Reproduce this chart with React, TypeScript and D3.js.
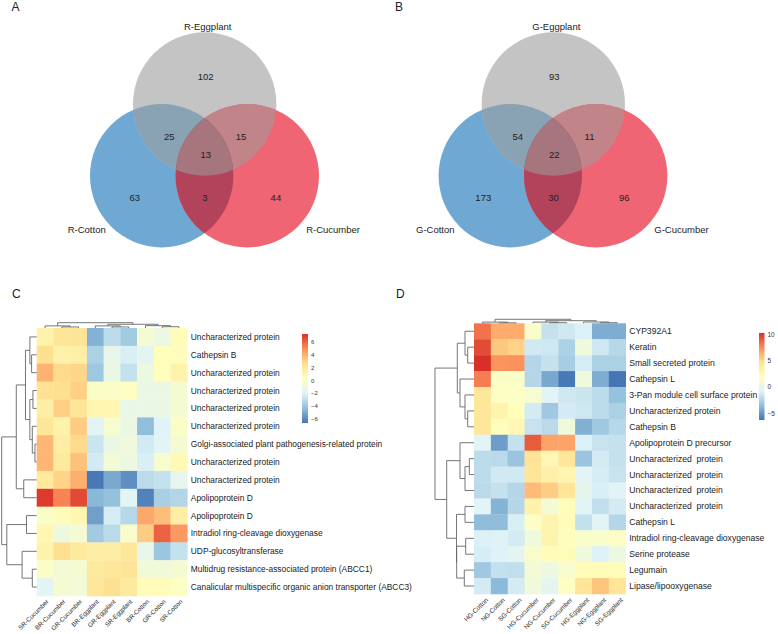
import React from 'react';
import * as d3 from 'd3';

const FONT = "'Liberation Sans', Arial, Helvetica, sans-serif";

// ---------------- Venn data ----------------
// order: cotton-only, eggplant-only, cucumber-only, cotton∩eggplant, eggplant∩cucumber, cotton∩cucumber, all three
const vennALabels = ['R-Cotton', 'R-Eggplant', 'R-Cucumber'];
const vennACounts = [63, 102, 44, 25, 15, 3, 13];
const vennBLabels = ['G-Cotton', 'G-Eggplant', 'G-Cucumber'];
const vennBCounts = [173, 93, 96, 54, 11, 30, 22];

// ---------------- Heatmap C ----------------
const heatCCols = ['SR-Cucumber', 'BR-Cucumber', 'GR-Cucumber', 'BR-Eggplant', 'GR-Eggplant', 'SR-Eggplant', 'BR-Cotton', 'GR-Cotton', 'SR-Cotton'];
const heatCRows = [
  'Uncharacterized protein',
  'Cathepsin B',
  'Uncharacterized protein',
  'Uncharacterized protein',
  'Uncharacterized protein',
  'Uncharacterized protein',
  'Golgi-associated plant pathogenesis-related protein',
  'Uncharacterized protein',
  'Uncharacterized protein',
  'Apolipoprotein D',
  'Apolipoprotein D',
  'Intradiol ring-cleavage dioxygenase',
  'UDP-glucosyltransferase',
  'Multidrug resistance-associated protein (ABCC1)',
  'Canalicular multispecific organic anion transporter (ABCC3)',
];
const heatCValues = [
  [1.3, 2.2, 2.3, -4.7, -3.0, -3.8, -0.4, -1.1, 0.6],
  [2.6, 1.4, 1.5, -3.5, -1.4, -2.2, -1.7, 0.4, 0.5],
  [3.9, 2.8, 2.9, -3.9, -1.2, -2.8, -1.0, 0.4, 1.3],
  [2.5, 2.6, 3.1, 0.0, 0.0, 0.2, -1.2, -1.2, -0.4],
  [1.6, 3.1, 2.2, 1.0, 1.0, -1.3, -1.2, -1.2, -0.4],
  [2.2, 1.3, 3.2, -1.8, -0.3, -1.2, -4.3, -2.0, 0.0],
  [3.8, 1.7, 2.8, -2.6, -1.2, -0.8, -2.4, -1.8, -0.5],
  [3.8, 2.0, 3.5, -2.4, -0.6, -1.0, -2.2, -0.3, 0.8],
  [2.0, 3.0, 4.0, -6.5, -5.0, -5.8, -3.0, -2.8, -1.5],
  [7.0, 5.2, 6.6, -4.5, -4.2, -1.8, -6.2, -3.6, -3.3],
  [0.0, 0.6, 1.0, -5.3, -2.3, -3.2, 4.2, 3.6, 1.6],
  [1.0, -1.0, -0.5, -3.8, -3.1, -0.2, 3.2, 6.0, 4.6],
  [1.3, 2.6, 1.9, 1.6, 1.6, 2.1, -1.4, -4.0, -2.8],
  [0.0, -0.6, -0.4, 1.9, 2.1, 2.3, -0.7, -0.7, -0.4],
  [-1.8, -0.4, -0.6, 2.1, 2.6, 1.9, 0.6, 0.6, 0.2],
];
const heatCRange = [-6.6, 7.25];
const heatCTicks = [-6, -4, -2, 0, 2, 4, 6];
// dendrograms: leaf = index, node = [height, left, right]
const heatCRowTree: any = [34.3,
  [20, [11, [6.7, 0, [5, 1, 2]], [6.7, [3.7, 3, 4], [4.3, 5, [1.7, 6, 7]]]], [12.7, 8, 9]],
  [29.3, [10, 10, 11], [14.3, 12, [4.3, 13, 14]]]];
const heatCColTree: any = [5, [2, 0, [1, 1, 2]], [3.5, [2, 3, [1, 4, 5]], [2.2, 6, [1.2, 7, 8]]]];

// ---------------- Heatmap D ----------------
const heatDCols = ['HG-Cotton', 'NG-Cotton', 'SG-Cotton', 'HG-Cucumber', 'NG-Cucumber', 'SG-Cucumber', 'HG-Eggplant', 'NG-Eggplant', 'SG-Eggplant'];
const heatDRows = [
  'CYP392A1',
  'Keratin',
  'Small secreted protein',
  'Cathepsin L',
  '3-Pan module cell surface protein',
  'Uncharacterized protein',
  'Cathepsin B',
  'Apolipoprotein D precursor',
  'Uncharacterized  protein',
  'Uncharacterized  protein',
  'Uncharacterized  protein',
  'Uncharacterized  protein',
  'Cathepsin L',
  'Intradiol ring-cleavage dioxygenase',
  'Serine protease',
  'Legumain',
  'Lipase/lipooxygenase',
];
const heatDValues = [
  [8.3, 6.5, 6.5, 1.5, -1.7, -1.4, -0.9, -4.2, -4.2],
  [9.5, 5.6, 5.2, -1.3, -1.4, -2.6, 0.6, -1.4, -2.2],
  [10.3, 7.3, 7.4, -2.3, -1.7, -2.8, -1.1, -2.6, -2.6],
  [8.0, 1.6, 1.6, -2.3, -4.4, -6.2, 0.6, -4.2, -6.3],
  [4.2, 1.8, 1.8, 1.2, -0.6, -1.4, -1.5, -2.0, -3.4],
  [4.1, 3.0, 2.1, -1.2, -3.0, -1.2, -1.4, -2.0, -2.6],
  [4.1, 2.2, 2.7, -1.6, -2.1, 0.6, -4.1, -3.0, -2.2],
  [-0.6, -4.8, -1.7, 9.0, 6.8, 6.8, -0.9, -1.6, -1.7],
  [-2.0, -2.1, -3.2, 4.4, 2.7, 4.2, -3.2, -1.2, -1.7],
  [-2.0, -1.3, -1.3, 4.3, 3.3, 2.9, -0.6, -1.1, -1.6],
  [-2.1, -1.7, -2.3, 6.0, 5.4, 4.3, -0.2, -1.0, -0.7],
  [-0.6, -4.0, -2.3, 3.1, 1.0, 2.3, -0.6, -1.9, -1.2],
  [-3.6, -3.6, -1.0, 1.7, 3.0, 2.3, -1.8, -0.6, -2.3],
  [-0.9, -0.8, -1.2, 0.6, 3.0, 2.2, 1.5, 1.5, 1.7],
  [-1.1, -0.8, -0.4, 1.4, 2.3, 2.3, 0.6, -0.8, 0.4],
  [-3.0, -1.8, -1.9, 1.0, 0.4, 1.3, 2.3, 2.3, 2.3],
  [-1.2, -3.7, -1.2, 0.7, -0.4, 1.8, 4.3, 5.7, 4.3],
];
const heatDRange = [-6.3, 10.3];
const heatDTicks = [-5, 0, 5, 10];
const heatDRowTree: any = [39,
  [16.7, [9, 0, [6.3, 1, 2]], [14, 3, [9, 4, [6.3, 5, 6]]]],
  [27.3, [14, 7, [9, [4.7, 8, 9], 10]], [17.5, [9, 11, 12], [17.3, [8.3, 13, 14], [9.7, 15, 16]]]]];
const heatDColTree: any = [4, [1.2, 0, [0.5, 1, 2]], [2.6, [1.2, 3, [0.6, 4, 5]], [1.3, 6, [0.6, 7, 8]]]];

const PALETTE = ['#4575B4', '#91BFDB', '#E0F3F8', '#FFFFBF', '#FEE090', '#FC8D59', '#D73027'];

const VCOL = {
  cot: '#6fa8d2', egg: '#c4c4c4', cuc: '#ef6573',
  cotEgg: '#89a2b4', eggCuc: '#c18489', cotCuc: '#b3435b', all: '#a6757e',
};

function treeMax(t: any): number { return typeof t === 'number' ? 0 : t[0]; }

function dendroPaths(tree: any, pos: (i: number) => number, hs: (h: number) => number, horizontal: boolean) {
  const out: string[] = [];
  const rec = (n: any): { p: number; h: number } => {
    if (typeof n === 'number') return { p: pos(n), h: 0 };
    const A = rec(n[1]);
    const B = rec(n[2]);
    const h = n[0];
    if (horizontal) out.push(`M${hs(A.h)},${A.p}H${hs(h)}V${B.p}H${hs(B.h)}`);
    else out.push(`M${A.p},${hs(A.h)}V${hs(h)}H${B.p}V${hs(B.h)}`);
    return { p: (A.p + B.p) / 2, h };
  };
  rec(tree);
  return out;
}

function Venn({ id, cx, cy, r, labels, counts }: any) {
  const [cot, egg, cuc] = cx.map((x: number, i: number) => ({ x, y: cy[i] }));
  const midCE = { x: (cot.x + egg.x) / 2, y: (cot.y + egg.y) / 2 };
  const midEU = { x: (egg.x + cuc.x) / 2, y: (egg.y + cuc.y) / 2 };
  const midCU = { x: (cot.x + cuc.x) / 2, y: (cot.y + cuc.y) / 2 };
  const cen = { x: (cot.x + egg.x + cuc.x) / 3, y: (cot.y + egg.y + cuc.y) / 3 };
  const numPos = [
    [cot.x - 27, cot.y + 21.6], [egg.x + 1, egg.y - 27.7], [cuc.x + 28.6, cuc.y + 21.6],
    [midCE.x - 14, midCE.y - 3], [midEU.x + 15, midEU.y - 3], [midCU.x + 0.5, midCU.y + 21.6],
    [cen.x + 1.2, cen.y + 2.5],
  ];
  const labPos = [[cot.x - 75, cot.y + 53.6], [egg.x + 3, egg.y - 78], [cuc.x + 85.8, cuc.y + 53.6]];
  return (
    <g>
      <defs>
        <clipPath id={`${id}-cot`}><circle cx={cot.x} cy={cot.y} r={r} /></clipPath>
        <clipPath id={`${id}-egg`}><circle cx={egg.x} cy={egg.y} r={r} /></clipPath>
      </defs>
      <circle cx={cot.x} cy={cot.y} r={r} fill={VCOL.cot} />
      <circle cx={egg.x} cy={egg.y} r={r} fill={VCOL.egg} />
      <circle cx={cuc.x} cy={cuc.y} r={r} fill={VCOL.cuc} />
      <g clipPath={`url(#${id}-cot)`}><circle cx={egg.x} cy={egg.y} r={r} fill={VCOL.cotEgg} /></g>
      <g clipPath={`url(#${id}-egg)`}><circle cx={cuc.x} cy={cuc.y} r={r} fill={VCOL.eggCuc} /></g>
      <g clipPath={`url(#${id}-cot)`}><circle cx={cuc.x} cy={cuc.y} r={r} fill={VCOL.cotCuc} /></g>
      <g clipPath={`url(#${id}-cot)`}>
        <g clipPath={`url(#${id}-egg)`}><circle cx={cuc.x} cy={cuc.y} r={r} fill={VCOL.all} /></g>
      </g>
      {counts.map((c: number, i: number) => (
        <text key={i} x={numPos[i][0]} y={numPos[i][1]} textAnchor="middle" dominantBaseline="central"
          fontSize={9.5} fill="#222">{c}</text>
      ))}
      {labels.map((l: string, i: number) => (
        <text key={l} x={labPos[i][0]} y={labPos[i][1]} textAnchor="middle" dominantBaseline="central"
          fontSize={9.5} fill="#222">{l}</text>
      ))}
    </g>
  );
}

function Heatmap({ id, cols, rows, values, range, ticks, rowTree, colTree, x0, x1, y0, y1,
  rowRootX, colTopY, labelFont, colFont, colDx, colDy, legend }: any) {
  const xs = d3.scaleBand<number>().domain(d3.range(cols.length)).range([x0, x1]);
  const ys = d3.scaleBand<number>().domain(d3.range(rows.length)).range([y0, y1]);
  const stops = d3.range(PALETTE.length).map((i) => range[0] + (i * (range[1] - range[0])) / (PALETTE.length - 1));
  const color = d3.scaleLinear<string>().domain(stops).range(PALETTE).interpolate(d3.interpolateRgb);
  const rowH = d3.scaleLinear().domain([0, treeMax(rowTree)]).range([x0, rowRootX]);
  const colH = d3.scaleLinear().domain([0, treeMax(colTree)]).range([y0, colTopY]);
  const rowPaths = dendroPaths(rowTree, (i) => ys(i)! + ys.bandwidth() / 2, rowH, true);
  const colPaths = dendroPaths(colTree, (i) => xs(i)! + xs.bandwidth() / 2, colH, false);
  const lg = d3.scaleLinear().domain(range).range([legend.y1, legend.y0]);
  return (
    <g>
      <defs>
        <linearGradient id={`${id}-grad`} x1="0" y1="1" x2="0" y2="0">
          {PALETTE.map((c, i) => <stop key={i} offset={i / (PALETTE.length - 1)} stopColor={c} />)}
        </linearGradient>
      </defs>
      {values.map((row: number[], ri: number) => row.map((v, ci) => (
        <rect key={`${ri}-${ci}`} x={xs(ci)} y={ys(ri)} width={xs.bandwidth() + 0.3} height={ys.bandwidth() + 0.3}
          fill={color(v)} />
      )))}
      <g fill="none" stroke="#666" strokeWidth={0.9}>
        {rowPaths.map((d, i) => <path key={i} d={d} />)}
        {colPaths.map((d, i) => <path key={`c${i}`} d={d} />)}
      </g>
      {rows.map((r: string, i: number) => (
        <text key={i} x={x1 + 3.5} y={ys(i)! + ys.bandwidth() / 2} dominantBaseline="central"
          fontSize={labelFont} fill="#222" style={{ whiteSpace: 'pre' }}>{r}</text>
      ))}
      {cols.map((c: string, i: number) => (
        <text key={c} transform={`translate(${xs(i)! + xs.bandwidth() / 2 + colDx},${y1 + colDy}) rotate(-45)`}
          textAnchor="end" fontSize={colFont} fill="#2a2a2a">{c}</text>
      ))}
      <rect x={legend.x} y={legend.y0} width={legend.w} height={legend.y1 - legend.y0} fill={`url(#${id}-grad)`} />
      {ticks.map((t: number) => (
        <text key={t} x={legend.x + legend.w + 3} y={lg(t)} dominantBaseline="central" fontSize={legend.font}
          fill="#333">{t < 0 ? `\u2212${Math.abs(t)}` : `${t}`}</text>
      ))}
    </g>
  );
}

export default function App() {
  return (
    <svg width={778} height={634} style={{ position: 'absolute', left: 0, top: 0, background: '#fff' }}
      fontFamily={FONT}>
      <rect width={778} height={634} fill="#fff" />
      <text x={11.5} y={10.5} fontSize={12} fill="#222">A</text>
      <text x={395} y={10.5} fontSize={12} fill="#222">B</text>
      <text x={12} y={297.5} fontSize={12} fill="#222">C</text>
      <text x={396} y={297.5} fontSize={12} fill="#222">D</text>
      <Venn id="va" cx={[161.7, 204.7, 247.3]} cy={[175.7, 104, 175.7]} r={71.7}
        labels={vennALabels} counts={vennACounts} />
      <Venn id="vb" cx={[510.3, 553.3, 595.7]} cy={[175.7, 104, 175.7]} r={71.7}
        labels={vennBLabels} counts={vennBCounts} />
      <Heatmap id="hc" cols={heatCCols} rows={heatCRows} values={heatCValues} range={heatCRange} ticks={heatCTicks}
        rowTree={heatCRowTree} colTree={heatCColTree} x0={36.7} x1={187.3} y0={328} y1={596}
        rowRootX={1.7} colTopY={322.7} labelFont={8.4} colFont={6.3} colDx={4} colDy={6}
        legend={{ x: 302, w: 6, y0: 334, y1: 423, font: 6 }} />
      <Heatmap id="hd" cols={heatDCols} rows={heatDRows} values={heatDValues} range={heatDRange} ticks={heatDTicks}
        rowTree={heatDRowTree} colTree={heatDColTree} x0={474} x1={625.7} y0={323.3} y1={594}
        rowRootX={435} colTopY={319.3} labelFont={8.6} colFont={6.4} colDx={6} colDy={6.5}
        legend={{ x: 759, w: 5.5, y0: 333, y1: 420, font: 6.5 }} />
    </svg>
  );
}
